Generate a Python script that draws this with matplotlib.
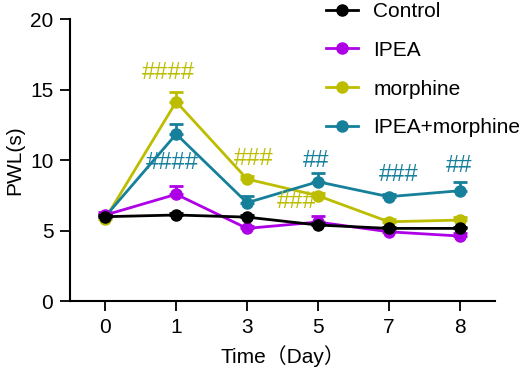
import matplotlib
matplotlib.use('Agg')
import matplotlib.pyplot as plt
from matplotlib.lines import Line2D

plt.rcParams['font.family'] = ['Liberation Sans', 'Noto Sans CJK SC', 'DejaVu Sans']

days = ['0', '1', '3', '5', '7', '8']
series = ['Control', 'IPEA', 'morphine', 'IPEA+morphine']
colors = ['#000000', '#AE00E6', '#BDBD00', '#16809A']

control = [5.98, 6.1, 5.95, 5.39, 5.15, 5.15]
control_err = [0.15, 0.15, 0.15, 0.15, 0.1, 0.1]
ipea = [6.1, 7.57, 5.15, 5.6, 4.91, 4.61]
ipea_err = [0.2, 0.6, 0.2, 0.4, 0.2, 0.2]
morphine = [5.85, 14.13, 8.65, 7.47, 5.62, 5.74]
morphine_err = [0.2, 0.7, 0.2, 0.2, 0.2, 0.2]
combo = [6.0, 11.84, 6.97, 8.46, 7.4, 7.82]
combo_err = [0.2, 0.7, 0.5, 0.6, 0.2, 0.6]

# significance marks: (text, x index, y value, series index)
marks = [
    ('####', 0.89, 16.2, 2),
    ('####', 0.94, 9.77, 3),
    ('###', 2.09, 10.1, 2),
    ('##', 2.98, 9.95, 3),
    ('###', 2.7, 7.04, 2),
    ('###', 4.14, 8.94, 3),
    ('##', 4.99, 9.57, 3),
]

fig = plt.figure(figsize=(5.26, 3.73), dpi=100)
ax = fig.add_axes([0.133, 0.193, 0.808, 0.756])

x = list(range(len(days)))
data = [control, ipea, morphine, combo]
errs = [control_err, ipea_err, morphine_err, combo_err]
order = [2, 3, 1, 0]
for i in order:
    ax.errorbar(x, data[i], yerr=[[0] * len(x), errs[i]], color=colors[i],
                marker='o', markersize=8, linewidth=2, elinewidth=2,
                capsize=5, capthick=2, zorder=3 + (i == 0))

for txt, xi, yv, si in marks:
    ax.text(xi, yv, txt, color=colors[si], fontsize=17, ha='center',
            va='center', zorder=5)

ax.set_xlim(-0.5, 5.5)
ax.set_ylim(0, 20)
ax.set_yticks([0, 5, 10, 15, 20])
ax.set_xticks(x)
ax.set_xticklabels(days)
ax.spines['top'].set_visible(False)
ax.spines['right'].set_visible(False)
for s in ['left', 'bottom']:
    ax.spines[s].set_linewidth(1.5)
ax.tick_params(direction='out', length=7, width=1.3, labelsize=15, pad=5)
ax.set_ylabel('PWL(s)', fontsize=15, labelpad=4)
ax.set_xlabel('Time（Day）', fontsize=15, labelpad=6)

handles = [Line2D([], [], color=c, marker='o', markersize=8, linewidth=2)
           for c in colors]
fig.legend(handles, series, loc='upper left',
           bbox_to_anchor=(0.585, 1.045), frameon=False, fontsize=15,
           handlelength=1.5, labelspacing=0.95, handletextpad=0.75)

fig.savefig('out.png', dpi=100)
